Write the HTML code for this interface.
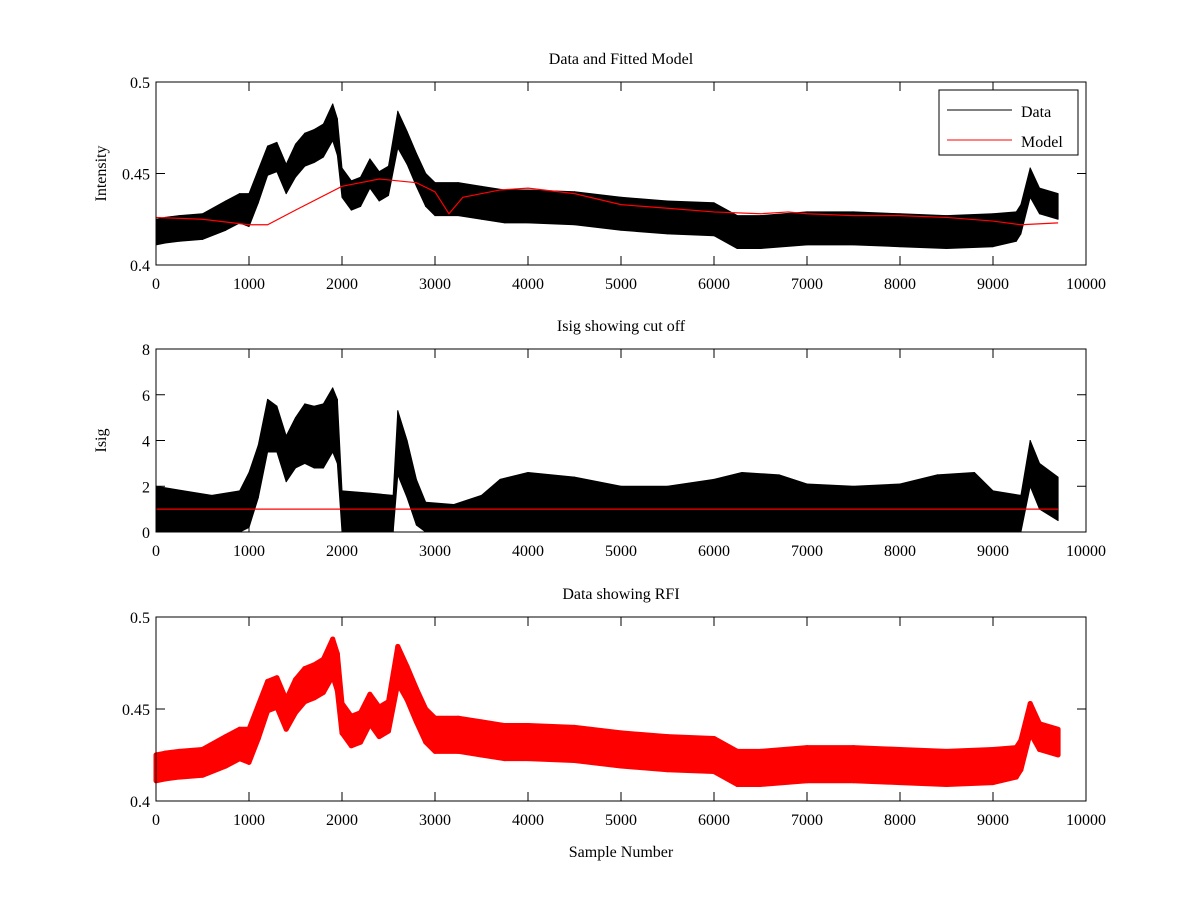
<!DOCTYPE html>
<html><head><meta charset="utf-8"><style>
body{margin:0;background:#fff;}
svg text{font-family:"Liberation Serif",serif;font-size:16px;fill:#000;}
</style></head><body>
<svg id="c" width="1200" height="900"></svg>
<script>
const xs=[0,100,250,500,750,900,1000,1100,1200,1300,1400,1500,1600,1700,1800,1900,1950,2000,2100,2200,2300,2400,2500,2600,2700,2800,2900,3000,3250,3500,3750,4000,4500,5000,5500,6000,6250,6500,7000,7500,8000,8500,9000,9250,9300,9400,9500,9700];
const dataMean=[0.418,0.419,0.420,0.421,0.427,0.431,0.430,0.443,0.457,0.459,0.447,0.457,0.463,0.465,0.468,0.478,0.470,0.445,0.438,0.440,0.450,0.443,0.446,0.474,0.464,0.452,0.441,0.436,0.436,0.434,0.432,0.432,0.431,0.428,0.426,0.425,0.418,0.418,0.420,0.420,0.419,0.418,0.419,0.421,0.425,0.445,0.435,0.432];
const dataHalf=[0.007,0.007,0.007,0.007,0.008,0.008,0.009,0.009,0.008,0.008,0.008,0.009,0.009,0.009,0.009,0.010,0.010,0.008,0.008,0.008,0.008,0.008,0.008,0.010,0.009,0.009,0.009,0.009,0.009,0.009,0.009,0.009,0.009,0.009,0.009,0.009,0.009,0.009,0.009,0.009,0.009,0.009,0.009,0.008,0.008,0.008,0.007,0.007];
const modelX=[0,500,1000,1200,1500,2000,2400,2800,3000,3150,3300,3700,4000,4500,5000,5500,6000,6500,6800,7000,7500,8000,8500,9000,9300,9700];
const modelY=[0.426,0.425,0.422,0.422,0.430,0.443,0.447,0.445,0.440,0.428,0.437,0.441,0.442,0.439,0.433,0.431,0.429,0.428,0.429,0.428,0.427,0.427,0.426,0.424,0.422,0.423];
const isigX=[0,300,600,900,1000,1100,1200,1300,1400,1500,1600,1700,1800,1900,1950,2000,2300,2550,2600,2700,2800,2900,3200,3500,3700,4000,4500,5000,5500,6000,6300,6700,7000,7500,8000,8400,8800,9000,9300,9400,9500,9700];
const isigLo=[0,0,0,0,0.2,1.5,3.5,3.5,2.2,2.8,3,2.8,2.8,3.5,3,0,0,0,2.5,1.5,0.3,0,0,0,0,0,0,0,0,0,0,0,0,0,0,0,0,0,0,2,1,0.5];
const isigHi=[2.0,1.8,1.6,1.8,2.6,3.8,5.8,5.5,4.2,5.0,5.6,5.5,5.6,6.3,5.8,1.8,1.7,1.6,5.3,4.0,2.3,1.3,1.2,1.6,2.3,2.6,2.4,2.0,2.0,2.3,2.6,2.5,2.1,2.0,2.1,2.5,2.6,1.8,1.6,4.0,3.0,2.4];
const thresh=1;
const xTicks=[0,1000,2000,3000,4000,5000,6000,7000,8000,9000,10000];
const y1Ticks=[0.4,0.45,0.5];
const y2Ticks=[0,2,4,6,8];

const svg=document.getElementById('c');
const NS='http://www.w3.org/2000/svg';
function mk(t,a,p){const e=document.createElementNS(NS,t);for(const k in a)e.setAttribute(k,a[k]);(p||svg).appendChild(e);return e;}
const L=156,R=1086;
const sx=v=>L+(v/10000)*(R-L);
function axes(top,bot,y0,y1,yt,ylab,title,name,xlabel){
  const g=mk('g',{});
  
  
  const sy=v=>bot-(v-y0)/(y1-y0)*(bot-top);
  const marks=mk('g',{});
  const fr=mk('g',{},g);
  mk('rect',{x:L,y:top,width:R-L,height:bot-top,fill:'none',stroke:'#000','stroke-width':1},fr);
  xTicks.forEach(t=>{const x=sx(t);
    mk('line',{x1:x,x2:x,y1:bot,y2:bot-9,stroke:'#000'},fr);
    mk('line',{x1:x,x2:x,y1:top,y2:top+9,stroke:'#000'},fr);
    const tx=mk('text',{x:x,y:bot+24,'text-anchor':'middle'},g);tx.textContent=t;
    
    });
  yt.forEach(t=>{const y=sy(t);
    mk('line',{x1:L,x2:L+9,y1:y,y2:y,stroke:'#000'},fr);
    mk('line',{x1:R,x2:R-9,y1:y,y2:y,stroke:'#000'},fr);
    const tx=mk('text',{x:L-6,y:y+6,'text-anchor':'end'},g);tx.textContent=t;
    
    });
  const tt=mk('text',{x:(L+R)/2,y:top-18,'text-anchor':'middle'},g);tt.textContent=title;
  
  
  if(ylab){const yl=mk('text',{x:0,y:0,'text-anchor':'middle',transform:`translate(106,${(top+bot)/2}) rotate(-90)`},g);yl.textContent=ylab;
    
    }
  if(xlabel){const xl=mk('text',{x:(L+R)/2,y:bot+56,'text-anchor':'middle'},g);xl.textContent=xlabel;
    
    }
  g.insertBefore(marks,g.firstChild);
  return {g:marks,sy};
}
function band(g,sy,X,lo,hi,color,sw,name){
  const bg=mk('g',{},g);
  
  
  for(let i=0;i<X.length-1;i++){
    const pts=[[sx(X[i]),sy(hi[i])],[sx(X[i+1]),sy(hi[i+1])],[sx(X[i+1]),sy(lo[i+1])],[sx(X[i]),sy(lo[i])]];
    const p=mk('polygon',{points:pts.map(q=>q.join(',')).join(' '),fill:color,stroke:color,'stroke-width':sw,'stroke-linejoin':'round'},bg);
    
    
  }
}
function line(g,sy,X,Y,color,name){
  const p=mk('polyline',{points:X.map((x,i)=>sx(x)+','+sy(Y[i])).join(' '),fill:'none',stroke:color,'stroke-width':1.2},g);
  
  
}
const lo=dataMean.map((m,i)=>m-dataHalf[i]), hi=dataMean.map((m,i)=>m+dataHalf[i]);
const a1=axes(82,265,0.4,0.5,y1Ticks,'Intensity','Data and Fitted Model','plot-data-model');
band(a1.g,a1.sy,xs,lo,hi,'#000',1,'data-series');
line(a1.g,a1.sy,modelX,modelY,'#f00','model-series');
const lg=mk('g',{});


mk('rect',{x:939,y:90,width:139,height:65,fill:'#fff',stroke:'#000'},lg);
mk('line',{x1:947,x2:1012,y1:110,y2:110,stroke:'#000'},lg);
mk('line',{x1:947,x2:1012,y1:140,y2:140,stroke:'#f00'},lg);
let t=mk('text',{x:1021,y:117},lg);t.textContent='Data';


t=mk('text',{x:1021,y:147},lg);t.textContent='Model';


const a2=axes(349,532,0,8,y2Ticks,'Isig','Isig showing cut off','plot-isig');
band(a2.g,a2.sy,isigX,isigLo,isigHi,'#000',1,'isig-series');
line(a2.g,a2.sy,[0,9700],[thresh,thresh],'#f00','cutoff-line');
const a3=axes(617,801,0.4,0.5,y1Ticks,null,'Data showing RFI','plot-rfi','Sample Number');
band(a3.g,a3.sy,xs,lo,hi,'#f00',5,'rfi-series');
</script>
</body></html>
